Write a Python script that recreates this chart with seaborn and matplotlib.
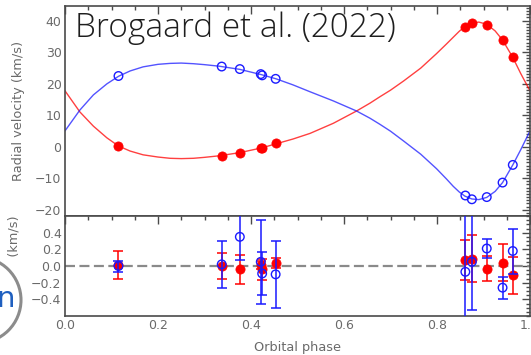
import numpy as np
import pandas as pd
import seaborn as sns
import matplotlib
matplotlib.use("Agg")
import matplotlib.pyplot as plt
from matplotlib.patches import Circle, Rectangle
from matplotlib.ticker import MultipleLocator

# Observed epochs: orbital phase, radial velocities (km/s) of both components
phase_obs = [0.115, 0.337, 0.376, 0.421, 0.424, 0.453, 0.861, 0.875, 0.907, 0.941, 0.963]
rv_primary = [0.2, -2.9, -1.9, -0.3, -0.4, 1.0, 38.0, 39.3, 38.7, 33.8, 28.3]
rv_secondary = [22.4, 25.4, 24.6, 23.0, 22.6, 21.5, -15.5, -16.7, -16.0, -11.4, -5.8]

# O-C residuals (km/s) and their uncertainties
res_primary = [0.01, 0.00, -0.04, 0.01, -0.04, 0.04, 0.07, 0.09, -0.03, 0.04, -0.11]
err_primary = [0.17, 0.155, 0.175, 0.05, 0.13, 0.06, 0.24, 0.28, 0.145, 0.22, 0.22]
res_secondary = [0.00, 0.02, 0.35, 0.05, -0.09, -0.10, -0.07, 0.05, 0.21, -0.26, 0.18]
err_secondary = [0.066, 0.28, 0.28, 0.50, 0.26, 0.40, 0.90, 0.58, 0.11, 0.13, 0.27]

# Orbital solution, sampled in phase
model_phase = [0.0, 0.032, 0.061, 0.09, 0.115, 0.14, 0.168, 0.2, 0.226, 0.25, 0.276, 0.30,
               0.332, 0.376, 0.423, 0.454, 0.49, 0.527, 0.577, 0.627, 0.656, 0.677, 0.70,
               0.728, 0.765, 0.799, 0.82, 0.835, 0.848, 0.86, 0.875, 0.89, 0.907, 0.925,
               0.941, 0.963, 0.98, 1.0]
model_primary = [17.7, 11.0, 6.5, 2.8, 0.2, -1.4, -2.6, -3.3, -3.7, -3.8, -3.7, -3.4,
                 -2.9, -1.9, -0.4, 0.9, 2.4, 4.2, 7.4, 11.3, 13.8, 15.8, 17.9,
                 20.8, 24.9, 29.5, 32.5, 34.7, 36.6, 38.1, 39.2, 39.5, 38.8, 36.7,
                 33.8, 28.3, 23.2, 17.7]
model_secondary = [5.0, 11.6, 16.4, 19.9, 22.3, 24.0, 25.3, 26.1, 26.4, 26.5, 26.3, 26.0,
                   25.5, 24.5, 22.8, 21.5, 19.6, 17.4, 14.5, 11.3, 9.0, 7.1, 4.9,
                   1.8, -2.4, -7.0, -10.2, -12.6, -14.4, -15.7, -16.6, -16.8, -16.1, -14.2,
                   -11.4, -5.8, -1.0, 5.0]

x_ticks = [0.0, 0.2, 0.4, 0.6, 0.8, 1.0]
rv_ticks = [-20, -10, 0, 10, 20, 30, 40]
res_ticks = [-0.4, -0.2, 0.0, 0.2, 0.4]

sns.set_style("white")
plt.rcParams["font.family"] = ["DejaVu Sans"]

RED = "#ff0000"
BLUE = "#1a1aff"
AX_COL = "#4a4a4a"
TXT_COL = "#6a6a6a"

W, H = 531, 355
fig = plt.figure(figsize=(W / 100, H / 100), dpi=100)
ax1 = fig.add_axes([65 / W, 1 - 216 / H, 465 / W, 210 / H])
ax2 = fig.add_axes([65 / W, 1 - 316 / H, 465 / W, 100 / H])

model = pd.DataFrame({"phase": model_phase, "primary": model_primary,
                      "secondary": model_secondary})
obs = pd.DataFrame({"phase": phase_obs, "primary": rv_primary, "secondary": rv_secondary,
                    "res_p": res_primary, "err_p": err_primary,
                    "res_s": res_secondary, "err_s": err_secondary})

# Radial-velocity curves
sns.lineplot(data=model, x="phase", y="primary", ax=ax1, color=RED, lw=1.0,
             alpha=0.75, sort=False, estimator=None)
sns.lineplot(data=model, x="phase", y="secondary", ax=ax1, color=BLUE, lw=1.0,
             alpha=0.75, sort=False, estimator=None)
sns.scatterplot(data=obs, x="phase", y="primary", ax=ax1, color=RED, s=44,
                edgecolor=RED, linewidth=0.5, zorder=3)
sns.scatterplot(data=obs, x="phase", y="secondary", ax=ax1, facecolor="none",
                edgecolor=BLUE, s=38, linewidth=1.0, zorder=4)

# Residual panel
ax2.axhline(0, color="#8a8a8a", lw=1.6, ls=(0, (4.5, 2.0)), zorder=1)
ax2.errorbar(obs["phase"], obs["res_p"], yerr=obs["err_p"], fmt="none",
             ecolor=RED, elinewidth=1.1, capsize=3.5, capthick=1.1, zorder=2)
sns.scatterplot(data=obs, x="phase", y="res_p", ax=ax2, color=RED, s=44,
                edgecolor=RED, linewidth=0.5, zorder=3)
ax2.errorbar(obs["phase"], obs["res_s"], yerr=obs["err_s"], fmt="none",
             ecolor=BLUE, elinewidth=1.1, capsize=3.5, capthick=1.1, zorder=4)
sns.scatterplot(data=obs, x="phase", y="res_s", ax=ax2, facecolor="none",
                edgecolor=BLUE, s=38, linewidth=1.0, zorder=5)

ax1.set_xlim(0, 1.0)
ax2.set_xlim(0, 1.0)
ax1.set_ylim(-22.0, 44.6)
ax2.set_ylim(-0.6, 0.6)

ax1.set_yticks(rv_ticks)
ax1.yaxis.set_minor_locator(MultipleLocator(1))
ax2.set_yticks(res_ticks)
ax2.yaxis.set_minor_locator(MultipleLocator(0.05))
for ax in (ax1, ax2):
    ax.set_xticks(x_ticks)
    ax.xaxis.set_minor_locator(MultipleLocator(0.05))
    ax.tick_params(which="both", direction="in", top=True, right=True,
                   color=AX_COL, labelcolor=TXT_COL, labelsize=9, width=1.0)
    ax.tick_params(which="major", length=6, pad=2.5)
    ax.tick_params(which="minor", length=3)
    for sp in ax.spines.values():
        sp.set_color(AX_COL)
        sp.set_linewidth(1.2)
ax1.tick_params(axis="x", labelbottom=False)
ax2.set_yticklabels(["\u22120.4", "\u22120.2", "0.0", "0.2", "0.4"])
ax2.set_xticklabels(["0.0", "0.2", "0.4", "0.6", "0.8", "1.0"])

ax1.set_xlabel("")
ax1.set_ylabel("Radial velocity (km/s)", color=TXT_COL, fontsize=9.3)
ax1.yaxis.set_label_coords(-0.086, 0.5)
ax2.set_ylabel("O-C (km/s)", color=TXT_COL, fontsize=9.3)
ax2.yaxis.set_label_coords(-0.095, 0.66)
ax2.set_xlabel("Orbital phase", color=TXT_COL, fontsize=9.3)
ax2.xaxis.set_label_coords(0.5, -0.245)

fig.text(75 / W, 1 - 37 / H, "Brogaard et al. (2022)", fontsize=24,
         family=["Open Sans", "DejaVu Sans"], fontweight=300, color="#1e1e1e",
         va="baseline", ha="left")

# Badge in the lower-left corner
overlay = fig.add_axes([0, 0, 1, 1], zorder=10)
overlay.set_xlim(0, W)
overlay.set_ylim(H, 0)
overlay.axis("off")
overlay.add_patch(Rectangle((0, 257), 30, 98, facecolor="white", edgecolor="none"))
overlay.add_patch(Circle((-22, 300), 43, facecolor="white", edgecolor="#8c8c8c", lw=2.2))
overlay.text(15, 307, "n", color="#1f5fbf", fontsize=21, ha="right", va="baseline")

fig.savefig("out.png", dpi=100)
